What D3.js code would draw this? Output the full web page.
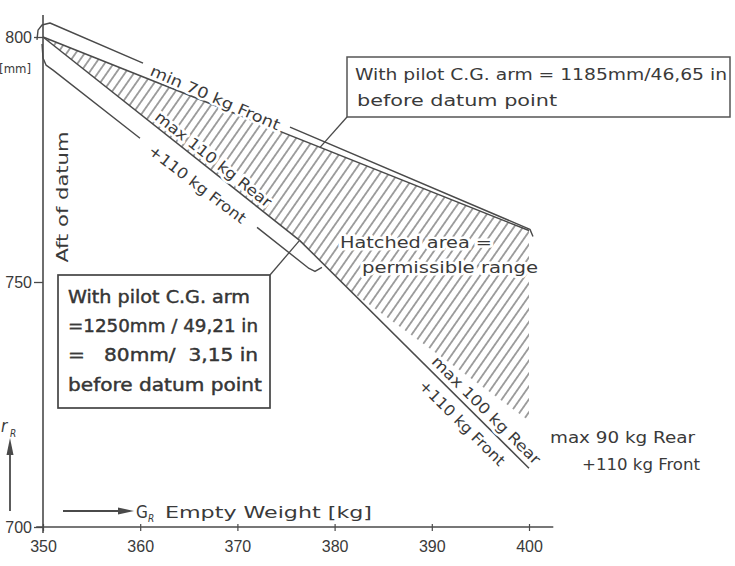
<!DOCTYPE html>
<html lang="en">
<head>
<meta charset="UTF-8">
<title>Empty weight C.G. range</title>
<script src="https://d3js.org/d3.v7.min.js"></script>
<style>
    body { margin: 0; background: #fff; }
    svg { display: block; font-family: "DejaVu Sans Condensed", "DejaVu Sans", sans-serif; }
    text { fill: #3a3a3a; }
    .halo { stroke: #fff; stroke-width: 5px; paint-order: stroke; stroke-linejoin: round; }
</style>
</head>
<body>
<svg width="735" height="566"></svg>
<script>
    // ticks
    const xTicks = [350, 360, 370, 380, 390, 400]
    const yTicks = [700, 750, 800]

    // boundary lines, [empty weight kg, C.G. mm aft of datum]
    const minFront70 = [[350, 800], [400, 760.5]]
    const maxRear110 = [[350, 800], [376.4, 758.5]]
    const maxRear100 = [[376.4, 758.5], [400, 712]]
    const maxRear90 = [[381.9, 747.8], [400, 721.7]]   // only ends the hatching, not drawn

    // brackets drawn beside the lines (two pieces each, gap for the label)
    const bracketTop = [
        [[349.38, 799.4], [349.49, 801.4], [349.9, 802.45], [350.72, 802.86], [360.29, 794.68]],
        [[375.41, 781.6], [400.1, 760.74], [400.41, 759.3]]
    ]
    const bracketLow = [
        [[349.9, 798.57], [350.0, 795.71], [350.31, 794.27], [351.03, 793.25], [359.98, 779.35]],
        [[372.02, 761.15], [377.37, 752.76], [377.98, 752.15], [378.7, 752.97]]
    ]

    // texts
    const noteUpper = ["With pilot C.G. arm = 1185mm/46,65 in", "before datum point"]
    const noteLower = ["With pilot C.G. arm", "=1250mm / 49,21 in", "=   80mm/  3,15 in", "before datum point"]
    const hatchNote = ["Hatched area =", "permissible range"]
    const rightNote = ["max 90 kg Rear", "+110 kg Front"]

    let svg = d3.select('svg')
    const ink = "#4a4a4a"

    let x = d3.scaleLinear().domain([350, 400]).range([43, 529])
    let y = d3.scaleLinear().domain([700, 800]).range([527, 37])

    let line = d3.line().x(d => x(d[0])).y(d => y(d[1]))

    // hatch pattern
    let defs = svg.append("defs")
    let pat = defs.append("pattern")
        .attr("id", "hatch")
        .attr("patternUnits", "userSpaceOnUse")
        .attr("width", 7.4).attr("height", 10)
        .attr("patternTransform", "rotate(35)")
    pat.append("line")
        .attr("x1", 3.7).attr("x2", 3.7).attr("y1", 0).attr("y2", 10)
        .attr("stroke", "#666").attr("stroke-width", 1.2)

    // hatched area = permissible range
    const area = [minFront70[0], minFront70[1], maxRear90[1], maxRear90[0], maxRear110[1], maxRear110[0]]
    svg.append("path")
        .attr("d", line(area) + "Z")
        .attr("fill", "url(#hatch)")

    // axes
    let yAxis = svg.append("g")
        .attr("transform", `translate(${x(350)},0)`)
        .call(d3.axisLeft(y).tickValues(yTicks).tickSize(9).tickSizeOuter(0))
    yAxis.select(".domain").remove()
    yAxis.selectAll("line").attr("stroke", ink).attr("stroke-width", 1.3)
    yAxis.selectAll("text")
        .attr("x", -11).attr("dy", "0.35em")
        .style("font-size", "16px").style("font-family", null).attr("fill", "#3a3a3a")

    let xAxis = svg.append("g")
        .attr("transform", `translate(0,${y(700)})`)
        .call(d3.axisBottom(x).tickValues(xTicks).tickSize(4).tickSizeOuter(0))
    xAxis.select(".domain").remove()
    xAxis.selectAll("line").attr("y1", -3).attr("stroke", ink).attr("stroke-width", 1.2)
    xAxis.selectAll("text")
        .attr("y", 14).attr("dy", "0.71em")
        .style("font-size", "16px").style("font-family", null).attr("fill", "#3a3a3a")

    svg.append("line")
        .attr("x1", x(350)).attr("x2", x(350))
        .attr("y1", y(804.5)).attr("y2", y(698.8))
        .attr("stroke", ink).attr("stroke-width", 1.6)
    svg.append("line")
        .attr("x1", x(349.3)).attr("x2", x(402.5))
        .attr("y1", y(700)).attr("y2", y(700))
        .attr("stroke", ink).attr("stroke-width", 1.6)

    svg.append("text").attr("x", 31).attr("y", 73)
        .attr("text-anchor", "end").style("font-size", "13px").text("[mm]")

    // boundary lines
    for (const seg of [minFront70, maxRear110, maxRear100]) {
        svg.append("path").attr("d", line(seg))
            .attr("fill", "none").attr("stroke", ink).attr("stroke-width", 1.5)
    }
    for (const piece of bracketTop.concat(bracketLow)) {
        svg.append("path").attr("d", line(piece))
            .attr("fill", "none").attr("stroke", ink).attr("stroke-width", 1.4)
            .attr("stroke-linejoin", "round")
    }

    // labels written along a line
    function alongLabel(seg, t, off, txt, len) {
        const a = [x(seg[0][0]), y(seg[0][1])], b = [x(seg[1][0]), y(seg[1][1])]
        const ang = Math.atan2(b[1] - a[1], b[0] - a[0])
        const cx = a[0] + (b[0] - a[0]) * t - Math.sin(ang) * off
        const cy = a[1] + (b[1] - a[1]) * t + Math.cos(ang) * off
        svg.append("text")
            .attr("class", "halo")
            .attr("transform", `translate(${cx},${cy}) rotate(${ang * 180 / Math.PI})`)
            .attr("text-anchor", "middle").attr("dy", "0.35em")
            .attr("textLength", len).attr("lengthAdjust", "spacingAndGlyphs")
            .style("font-size", "15px")
            .text(txt)
    }
    alongLabel([bracketTop[0][4], bracketTop[1][0]], 0.5, 3, "min 70 kg Front", 140)
    alongLabel(maxRear110, 0.64, -10, "max 110 kg Rear", 144)
    alongLabel([bracketLow[0][4], bracketLow[1][0]], 0.5, 2, "+110 kg Front", 118)
    alongLabel(maxRear100, 0.78, -11, "max 100 kg Rear", 146)
    alongLabel(maxRear100, 0.755, 15, "+110 kg Front", 114)

    // hatched area note
    svg.selectAll(".hn").data(hatchNote).enter().append("text")
        .attr("class", "halo")
        .attr("x", (d, i) => [340, 362][i]).attr("y", (d, i) => [248, 273][i])
        .attr("textLength", (d, i) => [152, 176][i]).attr("lengthAdjust", "spacingAndGlyphs")
        .style("font-size", "16px")
        .text(d => d)

    // right note
    svg.selectAll(".rn").data(rightNote).enter().append("text")
        .attr("x", (d, i) => [550, 582][i]).attr("y", (d, i) => [443, 470][i])
        .attr("textLength", (d, i) => [145, 118][i]).attr("lengthAdjust", "spacingAndGlyphs")
        .style("font-size", "16px")
        .text(d => d)

    // upper note box with leader
    svg.append("rect").attr("x", 347).attr("y", 57).attr("width", 383).attr("height", 60)
        .attr("fill", "#fff").attr("stroke", "#555").attr("stroke-width", 1.5)
    svg.selectAll(".nu").data(noteUpper).enter().append("text")
        .attr("x", (d, i) => [355, 357][i]).attr("y", (d, i) => [80, 106][i])
        .attr("textLength", (d, i) => [372, 200][i]).attr("lengthAdjust", "spacingAndGlyphs")
        .style("font-size", "16px")
        .text(d => d)
    let lx = 378.5
    let ly = minFront70[0][1] + (minFront70[1][1] - minFront70[0][1]) * (lx - 350) / 50
    svg.append("line").attr("x1", 347).attr("y1", 117).attr("x2", x(lx)).attr("y2", y(ly))
        .attr("stroke", ink).attr("stroke-width", 1.3)

    // lower note box with leader
    svg.append("rect").attr("x", 58).attr("y", 275).attr("width", 212).attr("height", 133)
        .attr("fill", "#fff").attr("stroke", "#444").attr("stroke-width", 1.7)
    svg.selectAll(".nl").data(noteLower).enter().append("text")
        .attr("x", 68).attr("y", (d, i) => 303 + i * 29.2)
        .attr("textLength", (d, i) => [182, 190, 190, 194][i]).attr("lengthAdjust", "spacingAndGlyphs")
        .style("font-size", "17px").style("white-space", "pre")
        .attr("fill", "#262626").attr("stroke", "#262626").attr("stroke-width", 0.35)
        .text(d => d)
    svg.append("line").attr("x1", 270).attr("y1", 275)
        .attr("x2", x(maxRear110[1][0])).attr("y2", y(maxRear110[1][1]))
        .attr("stroke", ink).attr("stroke-width", 1.3)

    // axis titles
    svg.append("text")
        .attr("transform", "translate(62,197) rotate(-90)")
        .attr("text-anchor", "middle").attr("dy", "0.35em")
        .attr("textLength", 131).attr("lengthAdjust", "spacingAndGlyphs")
        .style("font-size", "16px")
        .text("Aft of datum")

    svg.append("text").attr("x", 1).attr("y", 432).style("font-size", "17px").style("font-style", "italic").text("r")
    svg.append("text").attr("x", 10).attr("y", 437).style("font-size", "10px").style("font-style", "italic").text("R")
    svg.append("line").attr("x1", 10).attr("x2", 10).attr("y1", 450).attr("y2", 511)
        .attr("stroke", ink).attr("stroke-width", 1.8)
    svg.append("path").attr("d", "M10,438 L6.5,455 L13.5,455 Z").attr("fill", ink)

    svg.append("line").attr("x1", 63).attr("x2", 122).attr("y1", 511).attr("y2", 511)
        .attr("stroke", ink).attr("stroke-width", 1.8)
    svg.append("path").attr("d", "M134,511 L118,507.5 L118,514.5 Z").attr("fill", ink)
    svg.append("text").attr("x", 136).attr("y", 518).style("font-size", "17px").text("G")
    svg.append("text").attr("x", 148).attr("y", 522).style("font-size", "10px").style("font-style", "italic").text("R")
    svg.append("text").attr("x", 165).attr("y", 518)
        .attr("textLength", 207).attr("lengthAdjust", "spacingAndGlyphs")
        .style("font-size", "16px")
        .text("Empty Weight [kg]")
</script>
</body>
</html>
